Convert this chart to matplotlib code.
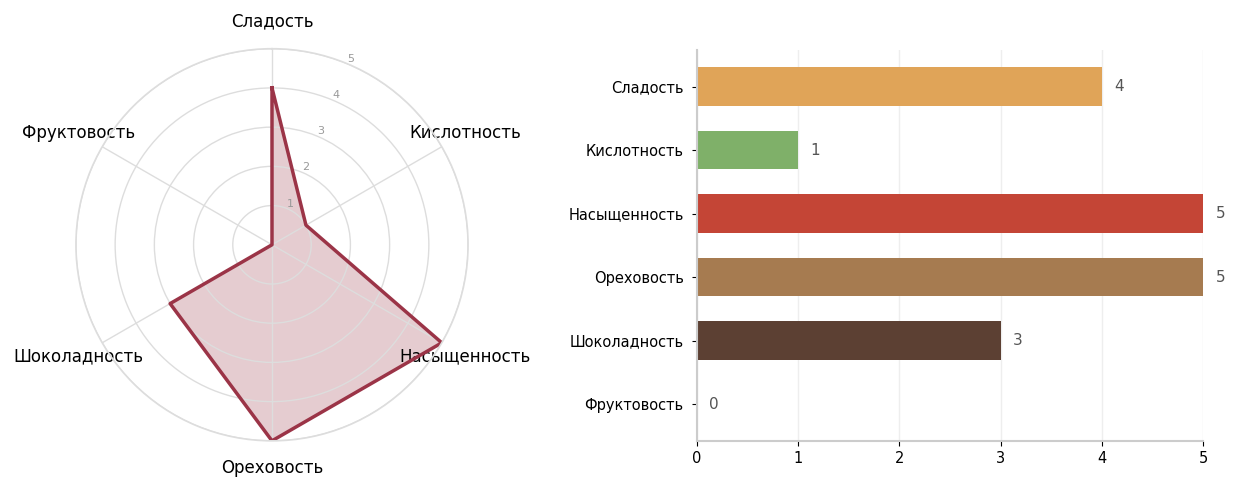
import matplotlib
matplotlib.use('Agg')
import matplotlib.pyplot as plt
import numpy as np

categories = ['Сладость', 'Кислотность', 'Насыщенность', 'Ореховость', 'Шоколадность', 'Фруктовость']
values = [4, 1, 5, 5, 3, 0]
bar_colors = ['#E0A458', '#7FB069', '#C44536', '#A67B50', '#5C4033', '#9B3447']

plt.rcParams['font.family'] = ['DejaVu Sans']

fig = plt.figure(figsize=(12.42, 4.92), dpi=100)

# радар
ax1 = fig.add_axes([0.061, 0.104, 0.316, 0.797], projection='polar')
n = len(categories)
angles = np.linspace(0, 2 * np.pi, n, endpoint=False)
ang = np.concatenate([angles, angles[:1]])
vals = values + values[:1]
ax1.set_theta_offset(np.pi / 2)
ax1.set_theta_direction(-1)
ax1.plot(ang, vals, color='#9B3447', linewidth=2.5)
ax1.fill(ang, vals, color='#9B3447', alpha=0.25)
ax1.set_ylim(0, 5)
ax1.set_yticks([1, 2, 3, 4, 5])
ax1.set_yticklabels(['1', '2', '3', '4', '5'], color='#999999', fontsize=8)
ax1.set_rlabel_position(22.5)
ax1.set_xticks(angles)
ax1.set_xticklabels(categories, fontsize=12)
ax1.tick_params(axis='x', pad=9)
ax1.grid(color='#dddddd', linewidth=1)
ax1.spines['polar'].set_color('#dddddd')
ax1.spines['polar'].set_linewidth(1.2)

# столбцы
ax2 = fig.add_axes([0.561, 0.104, 0.408, 0.795])
y = np.arange(n)
ax2.barh(y, values, height=0.6, color=bar_colors)
ax2.invert_yaxis()
ax2.set_yticks(y)
ax2.set_yticklabels(categories, fontsize=10.5)
ax2.tick_params(axis='y', pad=6)
ax2.set_xlim(0, 5)
ax2.set_xticks(range(6))
ax2.tick_params(axis='x', labelsize=10.5)
for i, v in enumerate(values):
    ax2.text(v + 0.12, i, str(v), va='center', ha='left', fontsize=11, color='#555555')
ax2.grid(axis='x', color='#eeeeee', linewidth=1)
ax2.set_axisbelow(True)
for s in ['top', 'right']:
    ax2.spines[s].set_visible(False)
for s in ['left', 'bottom']:
    ax2.spines[s].set_color('#cccccc')
    ax2.spines[s].set_linewidth(1.5)

fig.savefig('out.png', dpi=100)
